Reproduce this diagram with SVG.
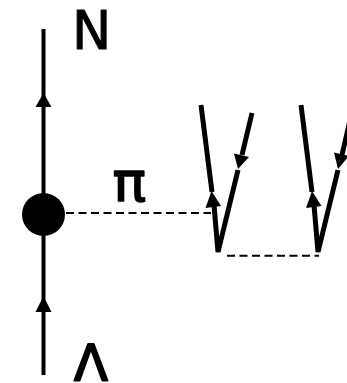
<svg xmlns="http://www.w3.org/2000/svg" width="347" height="383" viewBox="0 0 347 383">
<style>
.l{fill:none;stroke:#000;stroke-width:4}
.t{fill:none;stroke:#000;stroke-width:5}
.d{fill:none;stroke:#000;stroke-width:2;stroke-dasharray:8 4.500}
.a{fill:#000;stroke:none}
text{font-family:"DejaVu Sans",sans-serif;fill:#000;stroke:#000;stroke-linejoin:round;stroke-linecap:round}
</style>
<g id="connectors">
<line class="l" x1="43.500" y1="29" x2="43.500" y2="375"/>
<polygon class="a" points="43.500,93 51.500,107 35.500,107"/>
<polygon class="a" points="43.500,296 51.500,312 35.500,312"/>
<line class="d" x1="66" y1="213" x2="211" y2="213"/>
<line class="d" x1="227" y1="255.700" x2="319" y2="255.700"/>
<polyline class="t" points="201,105 212,192"/>
<polyline class="t" points="214,205 218,252 238,170"/>
<polyline class="t" points="252,113 242,155"/>
<polygon class="a" points="211.500,191 221,206 205.500,208"/>
<polygon class="a" points="238,169 234,153.500 249,157"/>
<polyline class="t" points="301,105 312,192"/>
<polyline class="t" points="314,205 318,252 338,170"/>
<polyline class="t" points="350,120 342,155"/>
<polygon class="a" points="312,191 321.500,206 306,208"/>
<polygon class="a" points="338,169 334,152.500 349,156"/>
</g>
<g id="vertex"><circle cx="43.500" cy="214.500" r="21.500" fill="#000"/></g>
<g id="label-N"><text x="72" y="48.500" font-size="52.500" stroke-width="1">N</text></g>
<g id="label-pi"><text x="112.500" y="201" font-size="56" stroke-width="1.500">π</text></g>
<g id="label-Lambda"><text x="74" y="380" font-size="49.500" stroke-width="2">Λ</text></g>
</svg>
